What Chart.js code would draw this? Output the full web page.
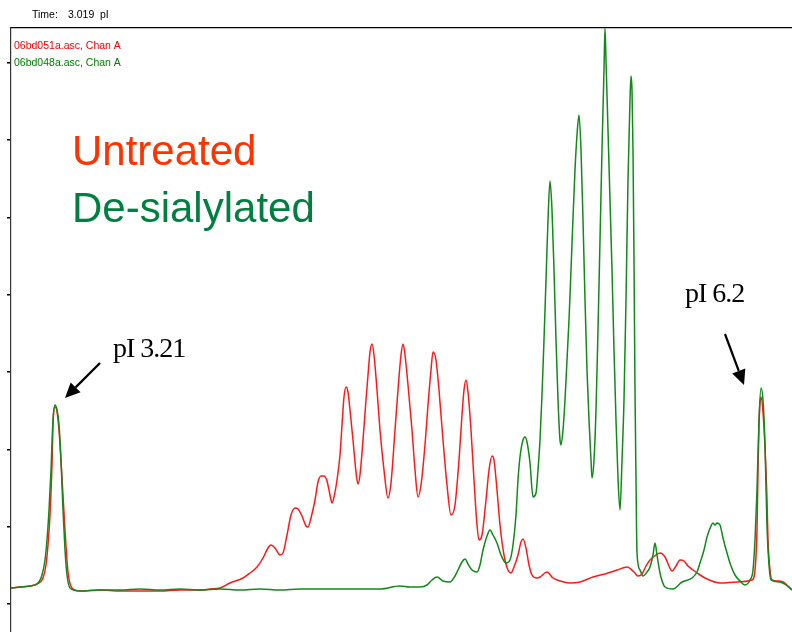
<!DOCTYPE html>
<html><head><meta charset="utf-8">
<script src="https://cdn.jsdelivr.net/npm/chart.js@4"></script>
<style>html,body{margin:0;padding:0;background:#fff}canvas{display:block}</style>
</head><body>
<canvas id="c" width="792" height="632"></canvas>
<script>
// Series names
const seriesNames = ["06bd051a.asc, Chan A", "06bd048a.asc, Chan A"];
const headerParts = ["Time:", "3.019", "pI"];
const bigLabels = ["Untreated", "De-sialylated"];
const peakLabels = ["pI 3.21", "pI 6.2"];

// Untreated (red) trace: position / intensity
const redX = [0,9,19,26,32,35,37,39,41,42,44,46,48,51,54,57,61,69,89,109,129,149,169,189,199,209,219,232,239,246,252,257,260,264,269,272,276,280,284,287,291,295,297,300,304,307,310,313,316,319,321,323,326,329,331,333,335,337,339,342,345,347,349,352,355,357,359,361,363,366,369,373,377,380,384,387,390,392,394,397,401,404,407,410,414,417,420,422,425,428,432,436,440,444,448,451,453,455,457,460,463,466,468,471,475,478,481,483,486,489,493,497,500,503,507,510,512,515,518,521,526,529,536,542,549,559,569,582,594,606,616,623,627,631,635,639,645,649,654,658,661,665,669,673,677,682,689,696,709,726,741,744,746,747,748,749,750,752,754,756,757,759,761,767,772,777,781];
const redY = [16,17,18,20,26,39,59,89,139,179,197,193,174,126,74,32,16,13,14,13,13,13,14,14,15,16,21,26,31,37,46,56,59,56,49,51,69,89,96,95,88,78,77,86,104,122,128,128,123,109,101,107,124,149,179,207,217,212,194,164,132,120,129,164,204,229,252,260,249,214,174,134,106,121,174,214,249,260,249,219,174,134,107,119,159,199,234,252,244,214,164,119,89,99,144,189,214,224,212,174,124,79,64,69,104,134,148,144,114,79,49,34,31,37,49,62,65,56,39,29,26,27,32,26,23,21,22,27,30,34,37,32,28,30,38,44,49,51,47,38,33,38,44,43,38,34,29,25,21,22,24,34,74,134,179,201,207,192,157,104,64,34,24,23,22,18,14];

// De-sialylated (green) trace: position / intensity
const greenX = [0,9,19,26,31,34,36,38,40,42,44,46,48,50,52,54,56,59,69,89,109,129,149,169,189,209,229,249,269,289,309,329,349,369,389,399,409,416,421,426,432,439,444,447,451,454,457,461,466,469,472,476,479,482,486,490,495,499,502,505,507,509,512,514,516,519,
  522,525,527,529,531,533,535,537,539,541,543,545,547,549,550,552,554,556,558,560,562,564,566,568,570,572,574,576,578,580,581,583,585,587,589,591,593,594,595,597,599,601,603,605,607,609,611,613,615,617,619,620,621,622,623,624,625,626,
  629,632,636,639,642,644,646,649,654,662,671,681,686,689,693,696,700,702,704,706,709,712,716,720,724,729,734,739,742,744,746,748,750,752,754,756,758,760,769,775,781];
const greenY = [16,17,18,20,29,44,64,94,134,184,199,194,179,144,94,54,29,16,13,14,14,15,14,15,14,15,14,15,14,15,15,15,15,15,18,17,17,19,24,27,23,22,28,34,42,45,40,34,32,39,54,68,74,69,61,49,41,44,59,89,124,147,164,167,162,141,
  107,111,134,164,209,264,324,384,423,394,334,264,204,164,159,174,204,244,284,334,386,434,469,489,454,384,304,234,184,144,126,144,194,274,364,454,534,576,544,474,404,334,254,184,126,94,143,204,304,424,504,528,514,454,344,214,124,51,
  34,28,32,37,49,61,49,31,17,15,22,26,32,41,54,67,78,81,79,81,79,66,51,38,29,23,19,24,34,64,114,184,216,204,159,77,39,24,22,19,14];

// Axis settings (no tick labels shown)
const xRange = [0, 781];
const yRange = [-28, 576];
const yTickStep = 77.3;

// Annotation anchors in data coordinates
const arrowFrom = [[89, 241], [714, 270]];
const arrowTo = [[54, 206], [733, 219]];
const peakLabelPos = [[102, 247], [674, 302]];

const toPts = (xs, ys) => xs.map((x, i) => ({x, y: ys[i]}));

const annot = {
  id: 'annot',
  afterDraw(chart) {
    const ctx = chart.ctx, xs = chart.scales.x, ys = chart.scales.y;
    ctx.save();
    ctx.textBaseline = 'alphabetic';
    ctx.textAlign = 'left';
    // header
    ctx.font = '10.5px "Liberation Sans", Arial, sans-serif';
    ctx.fillStyle = '#000';
    ctx.fillText(headerParts[0], 32, 18);
    ctx.fillText(headerParts[1], 68, 18);
    ctx.fillText(headerParts[2], 100, 18);
    // file labels
    ctx.font = '10.5px "Liberation Sans", Arial, sans-serif';
    ctx.fillStyle = '#ff0000';
    ctx.fillText(seriesNames[0], 14, 49);
    ctx.fillStyle = '#008000';
    ctx.fillText(seriesNames[1], 14, 66);
    // big labels
    ctx.font = '42px "Liberation Sans", Arial, sans-serif';
    ctx.fillStyle = '#ff3300';
    ctx.fillText(bigLabels[0], 72, 165);
    ctx.fillStyle = '#008040';
    ctx.fillText(bigLabels[1], 72, 222);
    // peak labels
    ctx.font = '28px "Liberation Serif", "Times New Roman", serif';
    try { ctx.letterSpacing = '-1px'; } catch (e) {}
    ctx.fillStyle = '#000';
    peakLabels.forEach((t, i) => {
      ctx.fillText(t, xs.getPixelForValue(peakLabelPos[i][0]), ys.getPixelForValue(peakLabelPos[i][1]));
    });
    try { ctx.letterSpacing = '0px'; } catch (e) {}
    // arrows
    ctx.strokeStyle = '#000'; ctx.fillStyle = '#000'; ctx.lineWidth = 2.2;
    for (let i = 0; i < arrowFrom.length; i++) {
      const x1 = xs.getPixelForValue(arrowFrom[i][0]), y1 = ys.getPixelForValue(arrowFrom[i][1]);
      const x2 = xs.getPixelForValue(arrowTo[i][0]), y2 = ys.getPixelForValue(arrowTo[i][1]);
      const a = Math.atan2(y2 - y1, x2 - x1), hl = 15, hw = 7;
      const bx = x2 - hl * Math.cos(a), by = y2 - hl * Math.sin(a);
      ctx.beginPath(); ctx.moveTo(x1, y1); ctx.lineTo(bx, by); ctx.stroke();
      ctx.beginPath();
      ctx.moveTo(x2, y2);
      ctx.lineTo(bx + hw * Math.sin(a), by - hw * Math.cos(a));
      ctx.lineTo(bx - hw * Math.sin(a), by + hw * Math.cos(a));
      ctx.closePath(); ctx.fill();
    }
    ctx.restore();
  }
};

new Chart(document.getElementById('c'), {
  type: 'line',
  data: {
    datasets: [
      { label: seriesNames[0], data: toPts(redX, redY), borderColor: '#ff1a1a', borderWidth: 1.5,
        pointRadius: 0, fill: false, cubicInterpolationMode: 'monotone', order: 1 },
      { label: seriesNames[1], data: toPts(greenX, greenY), borderColor: '#12891a', borderWidth: 1.5,
        pointRadius: 0, fill: false, cubicInterpolationMode: 'monotone', order: 0 }
    ]
  },
  options: {
    responsive: false,
    animation: false,
    events: [],
    layout: { padding: { left: 7, top: 28, right: 0, bottom: 0 } },
    plugins: { legend: { display: false }, tooltip: { enabled: false }, title: { display: false } },
    scales: {
      x: { type: 'linear', position: 'top', min: xRange[0], max: xRange[1],
           ticks: { display: false }, grid: { display: false, drawTicks: false },
           border: { display: true, color: '#000', width: 1.2 } },
      y: { type: 'linear', min: yRange[0], max: yRange[1],
           ticks: { display: false, stepSize: yTickStep, includeBounds: false },
           grid: { drawOnChartArea: false, drawTicks: true, tickLength: 4, color: '#000', lineWidth: 1.5 },
           border: { display: true, color: '#333', width: 1.2 } }
    }
  },
  plugins: [annot]
});
</script>
</body></html>
